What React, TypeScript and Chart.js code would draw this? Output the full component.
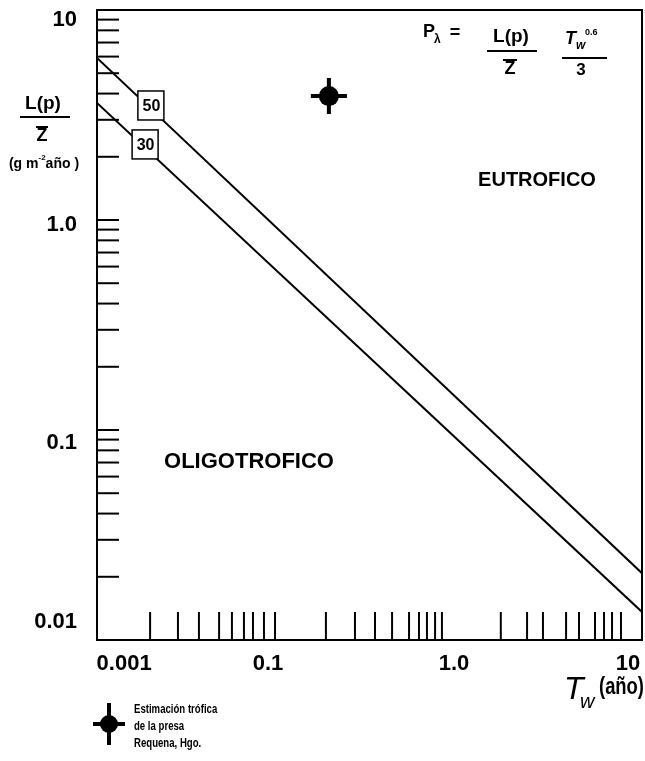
import { useEffect, useRef } from "react";
import { Chart, registerables } from "chart.js";

Chart.register(...registerables);

// Axis ranges (residence time, years) and areal load / mean depth
const X_RANGE = [0.01, 10];
const Y_RANGE = [0.01, 10];

// Limit lines P = 50 and P = 30 (start and end of each line)
const limit50X = [0.01, 10];
const limit50Y = [5.91, 0.0208];
const limit30X = [0.01, 10];
const limit30Y = [3.61, 0.0136];

// Trophic estimate for the Requena dam
const presaTw = [0.189];
const presaLz = [3.89];

// Boxed labels sitting on the limit lines
const limitLabelText = ["50", "30"];
const limitLabelX = [0.0198, 0.0184];
const limitLabelY = [3.51, 2.29];

// Hand-ruled tick marks along the time axis
const xTickValues = [
  0.0196, 0.0279, 0.0364, 0.047, 0.0553, 0.0644, 0.0722, 0.083, 0.0955,
  0.182, 0.263, 0.339, 0.421, 0.522, 0.592, 0.655, 0.726, 0.792,
  1.67, 2.33, 2.85, 3.82, 4.5, 5.51, 6.18, 6.84, 7.66,
];
const xLabelText = ["0.001", "0.1", "1.0", "10"];
const xLabelValue = [0.0141, 0.0873, 0.923, 8.38];

// Load axis ticks and labels
const yTickValues = [
  9, 8, 7, 6, 5, 4, 3, 2,
  1, 0.9, 0.8, 0.7, 0.6, 0.5, 0.4, 0.3, 0.2,
  0.1, 0.09, 0.08, 0.07, 0.06, 0.05, 0.04, 0.03, 0.02,
];
const yLabelText = ["10", "1.0", "0.1", "0.01"];
const yLabelValue = [8.96, 0.946, 0.0867, 0.0122];

const SANS = '"Liberation Sans", Arial, Helvetica, sans-serif';

function text(
  ctx: CanvasRenderingContext2D,
  s: string,
  x: number,
  y: number,
  font: string,
  align: CanvasTextAlign = "center",
  baseline: CanvasTextBaseline = "middle",
  sx = 1
) {
  ctx.save();
  ctx.font = font;
  ctx.textAlign = align;
  ctx.textBaseline = baseline;
  ctx.translate(x, y);
  ctx.scale(sx, 1);
  ctx.fillText(s, 0, 0);
  ctx.restore();
}

function hline(ctx: CanvasRenderingContext2D, x1: number, x2: number, y: number, w = 2) {
  ctx.lineWidth = w;
  ctx.beginPath();
  ctx.moveTo(x1, y);
  ctx.lineTo(x2, y);
  ctx.stroke();
}

const decor = {
  id: "decor",
  beforeDatasetsDraw(chart: any) {
    const { ctx, chartArea: a, scales } = chart;
    const xs = scales.x;
    const ys = scales.y;
    ctx.save();
    ctx.strokeStyle = "#000";
    ctx.lineWidth = 2;
    ctx.strokeRect(a.left, a.top, a.right - a.left, a.bottom - a.top);

    // inward ticks on the load axis
    for (const v of yTickValues) {
      const py = ys.getPixelForValue(v);
      hline(ctx, a.left, a.left + 22, py, 2);
    }
    // upward ticks on the time axis
    ctx.lineWidth = 2;
    for (const v of xTickValues) {
      const px = xs.getPixelForValue(v);
      ctx.beginPath();
      ctx.moveTo(px, a.bottom);
      ctx.lineTo(px, a.bottom - 28);
      ctx.stroke();
    }
    ctx.restore();
  },
  afterDatasetsDraw(chart: any) {
    const { ctx, chartArea: a, scales } = chart;
    const xs = scales.x;
    const ys = scales.y;
    ctx.save();
    ctx.fillStyle = "#000";
    ctx.strokeStyle = "#000";

    // boxed line labels
    limitLabelText.forEach((s, i) => {
      const cx = xs.getPixelForValue(limitLabelX[i]);
      const cy = ys.getPixelForValue(limitLabelY[i]);
      ctx.fillStyle = "#fff";
      ctx.fillRect(cx - 13, cy - 14.5, 26, 29);
      ctx.lineWidth = 1.5;
      ctx.strokeRect(cx - 13, cy - 14.5, 26, 29);
      ctx.fillStyle = "#000";
      text(ctx, s, cx + 0.5, cy + 1, `bold 16px ${SANS}`);
    });

    // axis numbers
    yLabelText.forEach((s, i) => {
      text(ctx, s, a.left - 20, ys.getPixelForValue(yLabelValue[i]), `bold 22px ${SANS}`, "right");
    });
    xLabelText.forEach((s, i) => {
      text(ctx, s, xs.getPixelForValue(xLabelValue[i]), a.bottom + 24, `bold 22px ${SANS}`);
    });

    // load axis title  L(p) / Z  (g m-2 año)
    text(ctx, "L(p)", 43, 104, `bold 19px ${SANS}`);
    hline(ctx, 20, 70, 117, 2);
    text(ctx, "Z", 42, 136, `bold 18px ${SANS}`);
    hline(ctx, 36, 48, 127, 2);
    ctx.font = `bold 14px ${SANS}`;
    const w1 = ctx.measureText("(g m").width;
    ctx.font = `bold 8px ${SANS}`;
    const w2 = ctx.measureText("-2").width;
    ctx.font = `bold 14px ${SANS}`;
    const w3 = ctx.measureText("año )").width;
    let tx = 44 - (w1 + w2 + w3) / 2;
    text(ctx, "(g m", tx, 164, `bold 14px ${SANS}`, "left");
    tx += w1;
    text(ctx, "-2", tx, 158, `bold 8px ${SANS}`, "left");
    tx += w2;
    text(ctx, "año )", tx, 164, `bold 14px ${SANS}`, "left");

    // formula
    text(ctx, "P", 423, 37, `bold 18px ${SANS}`, "left", "alphabetic");
    text(ctx, "λ", 434, 43, `bold 12px ${SANS}`, "left", "alphabetic");
    text(ctx, "=", 455, 33, `bold 18px ${SANS}`);
    text(ctx, "L(p)", 511, 37, `bold 19px ${SANS}`);
    hline(ctx, 487, 537, 51, 2);
    text(ctx, "Z", 510, 69, `bold 18px ${SANS}`);
    hline(ctx, 503, 517, 60, 2);
    text(ctx, "T", 565, 44, `bold italic 18px ${SANS}`, "left", "alphabetic");
    text(ctx, "w", 576, 49, `bold italic 12px ${SANS}`, "left", "alphabetic");
    text(ctx, "0.6", 585, 35, `bold 9px ${SANS}`, "left", "alphabetic");
    hline(ctx, 562, 607, 58, 2);
    text(ctx, "3", 581, 70, `bold 17px ${SANS}`);

    // trophic zones
    text(ctx, "EUTROFICO", 537, 180, `bold 20px ${SANS}`);
    text(ctx, "OLIGOTROFICO", 249, 462, `bold 22px ${SANS}`);

    // time axis title
    text(ctx, "T", 564, 699, `italic 32px ${SANS}`, "left", "alphabetic");
    text(ctx, "w", 580, 708, `italic 20px ${SANS}`, "left", "alphabetic");
    text(ctx, "(año)", 599, 688, `bold 23px ${SANS}`, "left", "middle", 0.8);

    // legend
    const lx = 109;
    const ly = 724;
    ctx.lineWidth = 4;
    ctx.beginPath();
    ctx.moveTo(lx - 16, ly);
    ctx.lineTo(lx + 16, ly);
    ctx.moveTo(lx, ly - 21);
    ctx.lineTo(lx, ly + 21);
    ctx.stroke();
    ctx.beginPath();
    ctx.arc(lx, ly, 9, 0, Math.PI * 2);
    ctx.fill();
    text(ctx, "Estimación trófica", 134, 710, `bold 12px ${SANS}`, "left", "middle", 0.8);
    text(ctx, "de la presa", 134, 727, `bold 12px ${SANS}`, "left", "middle", 0.8);
    text(ctx, "Requena, Hgo.", 134, 744, `bold 12px ${SANS}`, "left", "middle", 0.8);

    ctx.restore();
  },
};

export default function App() {
  const ref = useRef<HTMLCanvasElement | null>(null);

  useEffect(() => {
    if (!ref.current) return;
    const pts = (xs: number[], ys: number[]) => xs.map((x, i) => ({ x, y: ys[i] }));
    const chart = new Chart(ref.current, {
      type: "line",
      data: {
        datasets: [
          {
            label: "P = 50",
            data: pts(limit50X, limit50Y),
            borderColor: "#000",
            borderWidth: 2,
            pointRadius: 0,
            fill: false,
          },
          {
            label: "P = 30",
            data: pts(limit30X, limit30Y),
            borderColor: "#000",
            borderWidth: 2,
            pointRadius: 0,
            fill: false,
          },
          {
            label: "Presa Requena (cruz)",
            data: pts(presaTw, presaLz),
            showLine: false,
            pointStyle: "cross",
            pointRadius: 18,
            borderColor: "#000",
            borderWidth: 4,
          },
          {
            label: "Presa Requena",
            data: pts(presaTw, presaLz),
            showLine: false,
            pointStyle: "circle",
            pointRadius: 10,
            backgroundColor: "#000",
            borderColor: "#000",
            borderWidth: 0,
          },
        ],
      },
      options: {
        animation: false,
        responsive: true,
        maintainAspectRatio: false,
        layout: { autoPadding: false, padding: { left: 97, top: 10, right: 3, bottom: 121 } },
        plugins: { legend: { display: false }, tooltip: { enabled: false } },
        scales: {
          x: { type: "logarithmic", min: X_RANGE[0], max: X_RANGE[1], display: false },
          y: { type: "logarithmic", min: Y_RANGE[0], max: Y_RANGE[1], display: false },
        },
      },
      plugins: [decor],
    });
    return () => chart.destroy();
  }, []);

  return (
    <div style={{ position: "fixed", left: 0, top: 0, width: 645, height: 761, background: "#fff" }}>
      <canvas ref={ref} />
    </div>
  );
}
